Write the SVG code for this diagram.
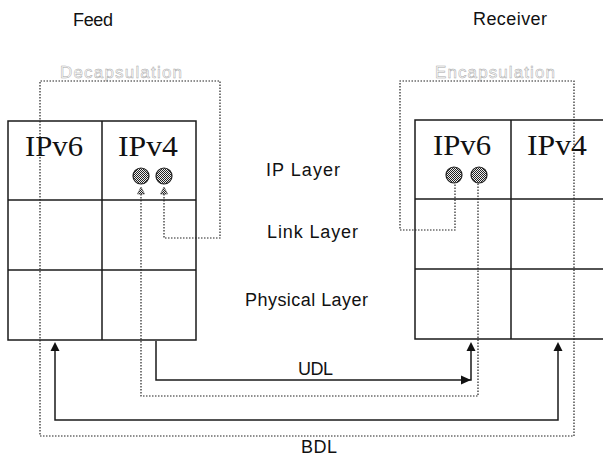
<svg xmlns="http://www.w3.org/2000/svg" width="603" height="457" viewBox="0 0 603 457">
<style>
.grid{fill:none;stroke:#1a1a1a;stroke-width:1.5}
.ip{font-family:"Liberation Serif",serif;font-size:30px;fill:#111}
.lbl{font-family:"Liberation Sans",Arial,sans-serif;font-size:18px;fill:#111}
.ghost{font-family:"Liberation Sans",Arial,sans-serif;font-size:17px;fill:#fff;stroke:#a8a8a8;stroke-width:0.5}
.dot{fill:none;stroke:#222;stroke-width:1.2;stroke-dasharray:1.5 1.5}
.solid{fill:none;stroke:#1a1a1a;stroke-width:1.5}
.port{fill:url(#hatch);stroke:#222;stroke-width:1.2}
.tri{fill:url(#hatch);stroke:#444;stroke-width:0.6}
.head{fill:#111}
</style>
<defs>
<pattern id="hatch" width="2" height="2" patternUnits="userSpaceOnUse">
<rect width="2" height="2" fill="#eee"/>
<rect width="1" height="1" fill="#222"/>
<rect x="1" y="1" width="1" height="1" fill="#222"/>
</pattern>
</defs>
<rect width="603" height="457" fill="#fff"/>

<g id="titles">
<text class="lbl" x="73" y="26" textLength="40" lengthAdjust="spacing">Feed</text>
<text class="lbl" x="473" y="25" textLength="74" lengthAdjust="spacing">Receiver</text>
<text class="ghost" x="60" y="78" textLength="122" lengthAdjust="spacing">Decapsulation</text>
<text class="ghost" x="435" y="78" textLength="120" lengthAdjust="spacing">Encapsulation</text>
</g>

<g id="layer-labels">
<text class="lbl" x="266" y="176" font-size="19" textLength="74" lengthAdjust="spacing">IP Layer</text>
<text class="lbl" x="267" y="238" font-size="19" textLength="91" lengthAdjust="spacing">Link Layer</text>
<text class="lbl" x="245" y="306" font-size="19" textLength="123" lengthAdjust="spacing">Physical Layer</text>
</g>

<g id="feed-stack">
<rect class="grid" x="8" y="121" width="188" height="219"/>
<line class="grid" x1="102" y1="121" x2="102" y2="340"/>
<line class="grid" x1="8" y1="200" x2="196" y2="200"/>
<line class="grid" x1="8" y1="270" x2="196" y2="270"/>
<text class="ip" x="25" y="156" textLength="58" lengthAdjust="spacingAndGlyphs">IPv6</text>
<text class="ip" x="118" y="156" textLength="60" lengthAdjust="spacingAndGlyphs">IPv4</text>
<circle class="port" cx="141" cy="176" r="8"/>
<circle class="port" cx="164" cy="176" r="8"/>
<polygon class="tri" points="141,187 137.5,194 144.5,194"/>
<polygon class="tri" points="164,187 160.5,194 167.5,194"/>
</g>

<g id="receiver-stack">
<path class="grid" d="M603,120 H415 V339 H603"/>
<line class="grid" x1="511" y1="120" x2="511" y2="339"/>
<line class="grid" x1="415" y1="199" x2="603" y2="199"/>
<line class="grid" x1="415" y1="269" x2="603" y2="269"/>
<text class="ip" x="433" y="155" textLength="58" lengthAdjust="spacingAndGlyphs">IPv6</text>
<text class="ip" x="527" y="155" textLength="60" lengthAdjust="spacingAndGlyphs">IPv4</text>
<circle class="port" cx="454" cy="175" r="8"/>
<circle class="port" cx="479" cy="175" r="8"/>
</g>

<g id="connectors">
<path class="dot" d="M164,194 V238 H220 V81 H40 V436 H574 V81 H400 V230 H455 V183"/>
<path class="dot" d="M141,194 V396 H478 V183"/>
<path class="solid" d="M156,341 V380 H471 V350"/>
<polygon class="head" points="471,380 461,375.5 461,384.5"/>
<polygon class="head" points="471,342 466.5,351 475.5,351"/>
<path class="solid" d="M55,350 V420 H558 V350"/>
<polygon class="head" points="55,342 50.5,351 59.5,351"/>
<polygon class="head" points="558,342 553.5,351 562.5,351"/>
<text class="lbl" x="298" y="375" font-size="19" textLength="35" lengthAdjust="spacing">UDL</text>
<text class="lbl" x="301" y="453" font-size="19" textLength="36" lengthAdjust="spacing">BDL</text>
</g>
</svg>
